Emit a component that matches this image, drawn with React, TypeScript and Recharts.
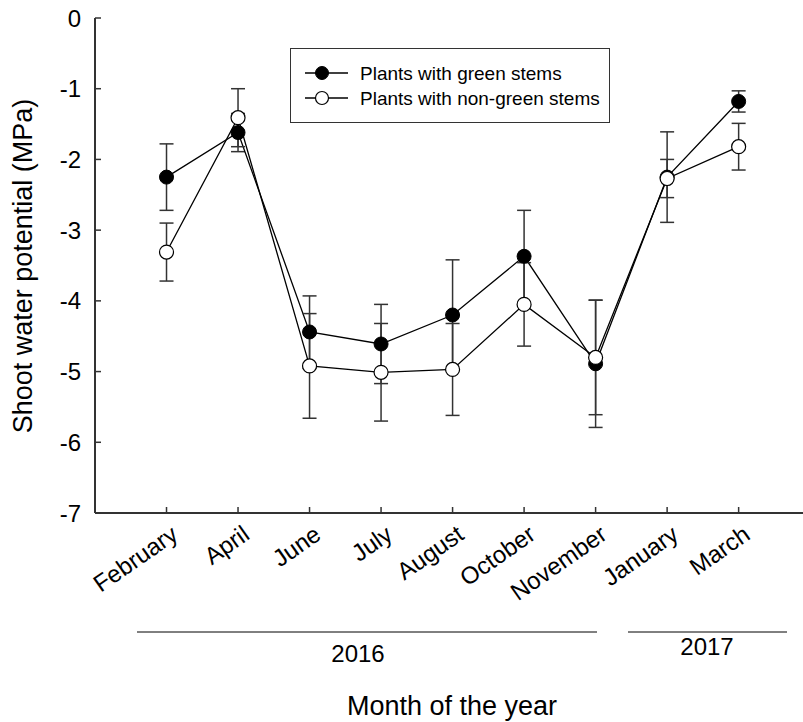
import React from 'react';
import {
  ComposedChart,
  Line,
  XAxis,
  YAxis,
  ErrorBar,
  Legend
} from 'recharts';

// months in sampling order (2016 then 2017)
const months = ['February', 'April', 'June', 'July', 'August', 'October', 'November', 'January', 'March'];
const greenMean = [-2.25, -1.62, -4.44, -4.61, -4.2, -3.37, -4.89, -2.25, -1.18];
const greenErr = [0.47, 0.27, 0.51, 0.56, 0.78, 0.65, 0.9, 0.64, 0.15];
const nonGreenMean = [-3.31, -1.41, -4.92, -5.01, -4.97, -4.05, -4.8, -2.27, -1.82];
const nonGreenErr = [0.41, 0.41, 0.74, 0.69, 0.65, 0.59, 0.81, 0.27, 0.33];
const yTicks = [0, -1, -2, -3, -4, -5, -6, -7];
const monthTicks = months.map((_, i) => i + 1);

const FONT = 'Arial, "Liberation Sans", Helvetica, sans-serif';
const INK = '#000';
const AXIS = '#333';

const chartData = months.map((m, i) => ({
  pos: i + 1,
  month: m,
  green: greenMean[i],
  greenErr: greenErr[i],
  nonGreen: nonGreenMean[i],
  nonGreenErr: nonGreenErr[i]
}));

// left axis: inward tick + label
const YTick = (props: any) => {
  const { x, y, payload } = props;
  return (
    <g>
      <line x1={x} y1={y} x2={x + 6} y2={y} stroke={AXIS} strokeWidth={1.5} />
      <text x={x - 14} y={y} textAnchor="end" dominantBaseline="central" fontSize={24} fontFamily={FONT} fill={INK}>
        {payload.value}
      </text>
    </g>
  );
};

// bottom axis: inward tick + rotated month
const XTick = (props: any) => {
  const { x, y, payload } = props;
  const tx = x + 13;
  const ty = y + 25;
  return (
    <g>
      <line x1={x} y1={y} x2={x} y2={y - 6} stroke={AXIS} strokeWidth={1.5} />
      <text x={tx} y={ty} textAnchor="end" fontSize={24} fontFamily={FONT} fill={INK} transform={`rotate(-35, ${tx}, ${ty})`}>
        {months[payload.value - 1]}
      </text>
    </g>
  );
};

// top border: tick marks only
const TopTick = (props: any) => {
  const { x, y } = props;
  return <line x1={x} y1={y} x2={x} y2={y + 6} stroke={AXIS} strokeWidth={1.5} />;
};

const LegendBox = () => (
  <svg width={320} height={75} style={{ display: 'block' }}>
    <rect x={0.5} y={0.5} width={319} height={74} fill="#fff" stroke={AXIS} strokeWidth={1} />
    <line x1={15} y1={25} x2={58} y2={25} stroke={INK} strokeWidth={1.3} />
    <circle cx={32} cy={25} r={6.5} fill={INK} stroke={INK} />
    <text x={70} y={25} dominantBaseline="central" fontSize={19} fontFamily={FONT} fill={INK}>
      Plants with green stems
    </text>
    <line x1={15} y1={50} x2={58} y2={50} stroke={INK} strokeWidth={1.3} />
    <circle cx={32} cy={50} r={6.5} fill="#fff" stroke={INK} strokeWidth={1.2} />
    <text x={70} y={50} dominantBaseline="central" fontSize={19} fontFamily={FONT} fill={INK}>
      Plants with non-green stems
    </text>
  </svg>
);

export default function App() {
  return (
    <div style={{ position: 'absolute', left: 0, top: 0, width: 803, height: 722, background: '#fff' }}>
      <ComposedChart
        width={803}
        height={722}
        data={chartData}
        margin={{ top: 18, right: 0, left: 0, bottom: 0 }}
      >
        <XAxis
          xAxisId="bottom"
          dataKey="pos"
          type="number"
          domain={[0, 9.9]}
          ticks={monthTicks}
          height={209}
          tickSize={0}
          tickMargin={0}
          tickLine={false}
          axisLine={{ stroke: AXIS, strokeWidth: 2 }}
          tick={<XTick />}
          interval={0}
        />
        <XAxis
          xAxisId="top"
          orientation="top"
          dataKey="pos"
          type="number"
          domain={[0, 9.9]}
          ticks={monthTicks}
          height={0}
          tickSize={0}
          tickMargin={0}
          tickLine={false}
          axisLine={{ stroke: AXIS, strokeWidth: 2 }}
          tick={<TopTick />}
          interval={0}
        />
        <YAxis
          type="number"
          domain={[-7, 0]}
          ticks={yTicks}
          width={95}
          tickSize={0}
          tickMargin={0}
          tickLine={false}
          axisLine={{ stroke: AXIS, strokeWidth: 2 }}
          tick={<YTick />}
          interval={0}
        />
        <Legend
          layout="horizontal"
          verticalAlign="middle"
          align="center"
          content={() => <LegendBox />}
          wrapperStyle={{ left: 290, top: 48, width: 320, height: 75 }}
        />
        <Line
          xAxisId="bottom"
          dataKey="green"
          stroke={INK}
          strokeWidth={1.3}
          dot={{ r: 7, fill: INK, stroke: INK, strokeWidth: 1 }}
          activeDot={false}
          isAnimationActive={false}
        >
          <ErrorBar dataKey="greenErr" direction="y" width={7} stroke={AXIS} strokeWidth={1.5} isAnimationActive={false} />
        </Line>
        <Line
          xAxisId="bottom"
          dataKey="nonGreen"
          stroke={INK}
          strokeWidth={1.3}
          dot={{ r: 7, fill: '#fff', stroke: INK, strokeWidth: 1.2 }}
          activeDot={false}
          isAnimationActive={false}
        >
          <ErrorBar dataKey="nonGreenErr" direction="y" width={7} stroke={AXIS} strokeWidth={1.5} isAnimationActive={false} />
        </Line>
      </ComposedChart>
      <svg
        width={803}
        height={722}
        style={{ position: 'absolute', left: 0, top: 0, pointerEvents: 'none' }}
      >
        <text x={32} y={266} textAnchor="middle" fontSize={27} fontFamily={FONT} fill={INK} transform="rotate(-90, 32, 266)">
          Shoot water potential (MPa)
        </text>
        <line x1={137} y1={632} x2={597} y2={632} stroke={INK} strokeWidth={1} />
        <text x={358} y={662} textAnchor="middle" fontSize={24} fontFamily={FONT} fill={INK}>2016</text>
        <line x1={628} y1={632} x2={787} y2={632} stroke={INK} strokeWidth={1} />
        <text x={707} y={655} textAnchor="middle" fontSize={24} fontFamily={FONT} fill={INK}>2017</text>
        <text x={452} y={715} textAnchor="middle" fontSize={27} fontFamily={FONT} fill={INK}>Month of the year</text>
      </svg>
    </div>
  );
}
